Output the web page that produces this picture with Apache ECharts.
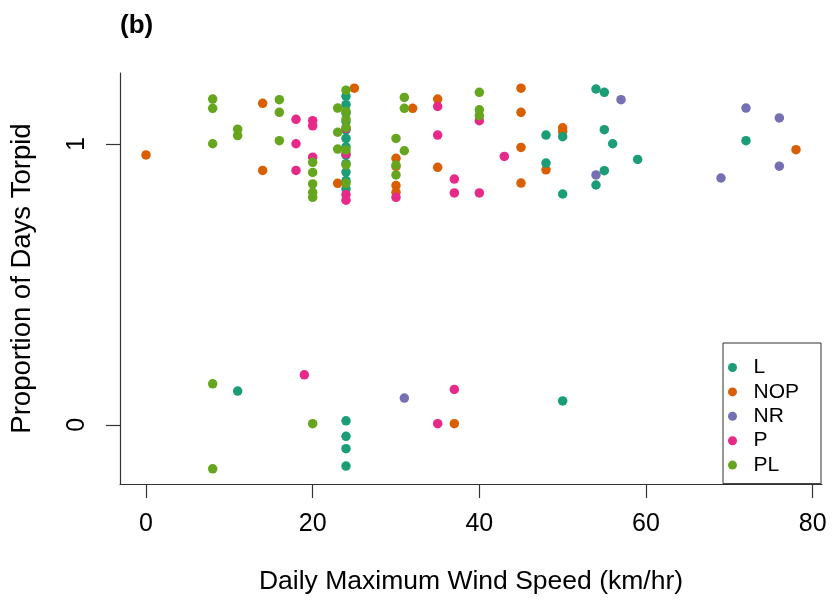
<!DOCTYPE html>
<html>
<head>
<meta charset="utf-8">
<script src="https://cdn.jsdelivr.net/npm/echarts@6/dist/echarts.min.js"></script>
<style>
html,body{margin:0;padding:0;background:#fff;}
#chart{width:833px;height:601px;}
</style>
</head>
<body>
<div id="chart"></div>
<script>
// ---- data ----
const groups = ["L", "NOP", "NR", "P", "PL"];
const colors = ["#1B9E77", "#D95F02", "#7570B3", "#E7298A", "#66A61E"];

const L_x = [24,24,24,24, 24,24,24,24,24,24,24,24,24,24,24,24, 11, 48,48, 50,50,50, 54,54, 55,55,55, 56, 59, 72];
const L_y = [0.014,-0.041,-0.085,-0.147, 1.17,1.14,1.11,1.08,1.05,1.02,0.99,0.96,0.93,0.90,0.87,0.84, 0.120, 1.032,0.932, 1.026,0.822,0.085, 1.196,0.854, 1.184,1.051,0.905, 1.001, 0.945, 1.012];

const NOP_x = [0, 14,14, 23, 25, 30,30,30,30, 32, 35,35, 37, 45,45,45,45, 48, 50,50, 78];
const NOP_y = [0.961, 1.145,0.906, 0.860, 1.199, 0.949,0.920,0.852,0.828, 1.127, 1.160,0.917, 0.004, 1.199,1.113,0.988,0.861, 0.908, 1.058,1.045, 0.980];

const NR_x = [31, 54, 57, 69, 72, 76,76];
const NR_y = [0.095, 0.890, 1.158, 0.879, 1.128, 1.093,0.921];

const P_x = [18,18,18, 19, 20,20,20, 24,24,24,24, 30, 35,35,35, 37,37,37, 40,40, 43];
const P_y = [1.088,1.001,0.906, 0.178, 1.083,1.065,0.953, 1.055,0.965,0.820,0.800, 0.810, 1.134,1.032,0.004, 0.875,0.826,0.126, 1.083,0.826, 0.956];

const PL_x = [8,8,8,8,8, 11,11, 16,16,16, 20,20,20,20,20,20, 23,23,23, 24,24,24,24,24,24,24, 30,30,30, 31,31,31, 40,40,40];
const PL_y = [1.160,1.127,1.001,0.146,-0.157, 1.053,1.030, 1.158,1.113,1.012, 0.935,0.899,0.858,0.828,0.810,0.004, 1.128,1.042,0.982, 1.192,1.116,1.089,1.059,0.979,0.926,0.860, 1.020,0.925,0.890, 1.166,1.127,0.976, 1.184,1.122,1.101];

const xTicks = [0, 20, 40, 60, 80];
const yTicks = [0, 1];

const seriesData = {
  L: [L_x, L_y], NOP: [NOP_x, NOP_y], NR: [NR_x, NR_y], P: [P_x, P_y], PL: [PL_x, PL_y]
};
// drawing order (later on top)
const drawOrder = ["NOP", "NR", "L", "P", "PL"];

const FONT = "'Liberation Sans', Arial, sans-serif";

const chart = echarts.init(document.getElementById('chart'), null, {renderer: 'canvas'});

const series = drawOrder.map(name => {
  const [xs, ys] = seriesData[name];
  return {
    name: name,
    type: 'scatter',
    symbol: 'circle',
    symbolSize: 9.5,
    itemStyle: {color: colors[groups.indexOf(name)], opacity: 1},
    emphasis: {disabled: true},
    data: xs.map((x, i) => [x, ys[i]])
  };
});

chart.setOption({
  animation: false,
  backgroundColor: '#fff',
  title: {
    text: '(b)',
    left: 115, top: 8,
    textStyle: {fontFamily: FONT, fontSize: 26, fontWeight: 'bold', color: '#000'}
  },
  grid: {left: 120, right: 11, top: 73, bottom: 117, containLabel: false, outerBoundsMode: 'none'},
  legend: {
    orient: 'vertical',
    left: 723, top: 343,
    data: groups,
    icon: 'circle',
    itemWidth: 32, itemHeight: 9,
    itemGap: 3.4,
    padding: [14, 22, 8, 5],
    borderColor: '#333', borderWidth: 1,
    backgroundColor: '#fff',
    selectedMode: false,
    textStyle: {fontFamily: FONT, fontSize: 21, color: '#000', lineHeight: 20, padding: 0}
  },
  xAxis: {
    type: 'value',
    min: -3.12, max: 81.12,
    name: 'Daily Maximum Wind Speed (km/hr)',
    nameLocation: 'middle',
    nameGap: 84,
    nameTextStyle: {fontFamily: FONT, fontSize: 26.5, color: '#000'},
    splitLine: {show: false},
    axisLine: {show: true, onZero: false, lineStyle: {color: '#333', width: 1.2}},
    axisTick: {show: true, inside: false, length: 14, customValues: xTicks, lineStyle: {color: '#333', width: 1.2}},
    axisLabel: {show: true, margin: 28, customValues: xTicks, fontFamily: FONT, fontSize: 25, color: '#000'}
  },
  yAxis: {
    type: 'value',
    min: -0.211, max: 1.253,
    name: 'Proportion of Days Torpid',
    nameLocation: 'middle',
    nameGap: 84,
    nameRotate: 90,
    nameTextStyle: {fontFamily: FONT, fontSize: 27.5, color: '#000'},
    splitLine: {show: false},
    axisLine: {show: true, onZero: false, lineStyle: {color: '#333', width: 1.2}},
    axisTick: {show: true, inside: false, length: 14, customValues: yTicks, lineStyle: {color: '#333', width: 1.2}},
    axisLabel: {show: true, margin: 30, rotate: 90, customValues: yTicks, fontFamily: FONT, fontSize: 25, color: '#000'}
  },
  series: series
});
</script>
</body>
</html>
